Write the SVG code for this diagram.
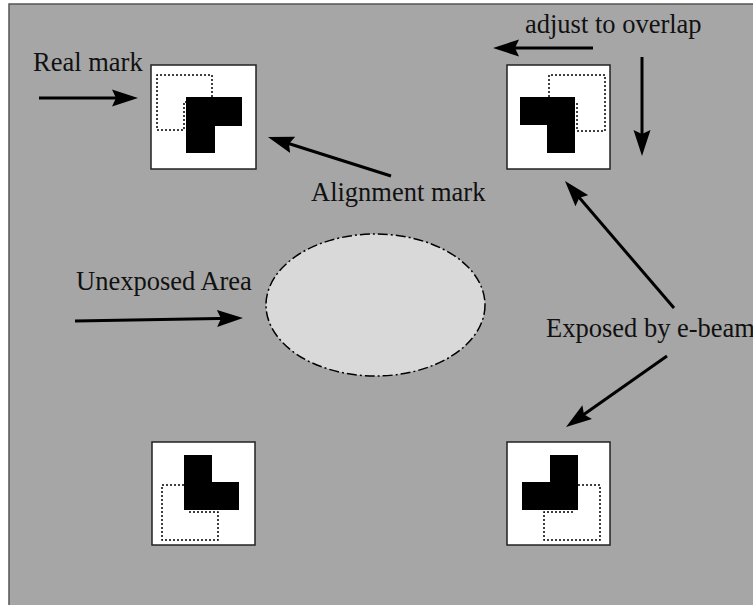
<svg xmlns="http://www.w3.org/2000/svg" width="753" height="605" viewBox="0 0 753 605">
<style>
.lbl{font-family:"Liberation Serif","Times New Roman",serif;font-size:26.5px;fill:#111}
.box{fill:#fff;stroke:#222;stroke-width:1.5}
.mark{fill:#000}
.dot{fill:none;stroke:#000;stroke-width:1.5;stroke-dasharray:2,2}
.arr{fill:none;stroke:#000;stroke-width:3;marker-end:url(#ah)}
</style>
<defs>
<marker id="ah" viewBox="0 0 26 18" refX="16" refY="9" markerWidth="26" markerHeight="18" markerUnits="userSpaceOnUse" orient="auto">
<path d="M0,0.5 L26,9 L0,17.5 L4,9 z" fill="#000"/>
</marker>
</defs>
<rect width="753" height="605" fill="#fff"/>
<rect id="panel" x="9" y="4" width="760" height="620" fill="#a6a6a6" stroke="#555" stroke-width="1.5"/>

<g id="mark-top-left">
<rect class="box" x="151" y="65" width="105" height="104"/>
<path class="dot" d="M212,97 V75 H157 V130 H184 V102 H186"/>
<polygon class="mark" points="186,97 242,97 242,126 215,126 215,153 186,153"/>
</g>
<g id="mark-top-right">
<rect class="box" x="507" y="65" width="103" height="104"/>
<path class="dot" d="M549,97 V75 H605 V131 H577 V103 H575"/>
<polygon class="mark" points="520,97 575,97 575,153 547,153 547,125 520,125"/>
</g>
<g id="mark-bottom-left">
<rect class="box" x="152" y="442" width="103" height="103"/>
<path class="dot" d="M184,485 H162 V540 H218 V512 H189"/>
<polygon class="mark" points="184,455 212,455 212,482 239,482 239,510 184,510"/>
</g>
<g id="mark-bottom-right">
<rect class="box" x="507" y="442" width="103" height="103"/>
<path class="dot" d="M578,485 H600 V540 H544 V512 H573"/>
<polygon class="mark" points="550,455 578,455 578,510 522,510 522,482 550,482"/>
</g>
<g id="unexposed-area">
<ellipse cx="375.5" cy="305" rx="109.5" ry="71" fill="#d9d9d9" stroke="#000" stroke-width="1.5" stroke-dasharray="10,3,2,3"/>
</g>

<g id="labels">
<text class="lbl" x="33" y="71">Real mark</text>
<text class="lbl" x="525" y="33">adjust to overlap</text>
<text class="lbl" x="311" y="201">Alignment mark</text>
<text class="lbl" x="76" y="290">Unexposed Area</text>
<text class="lbl" x="546" y="337">Exposed by e-beam</text>
</g>

<g id="connectors">
<path class="arr" d="M39,98 L128,98"/>
<path class="arr" d="M593,48 L503,48"/>
<path class="arr" d="M642,57 L642,146"/>
<path class="arr" d="M391,176 L277.5,140"/>
<path class="arr" d="M75,321 L233,318.2"/>
<path class="arr" d="M674,308 L571.5,188.6"/>
<path class="arr" d="M667,356 L574.2,421.3"/>
</g>
</svg>
